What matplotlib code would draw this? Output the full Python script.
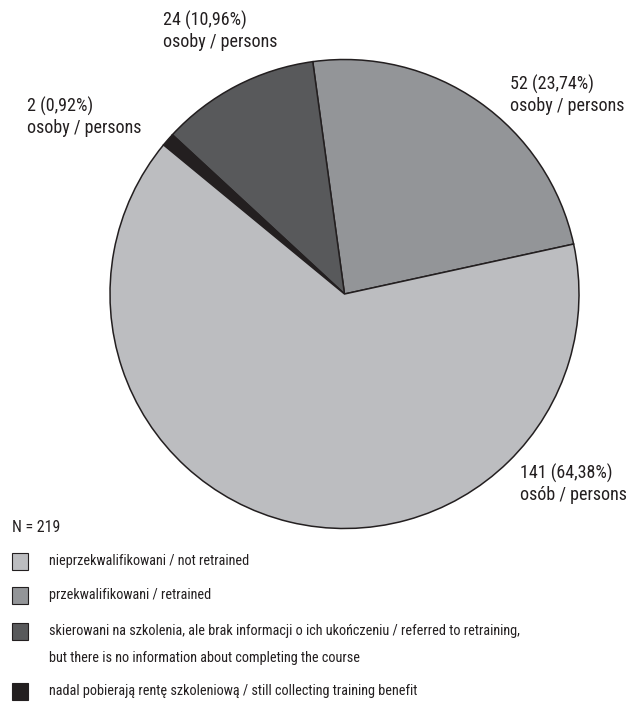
import matplotlib
matplotlib.use("Agg")
from matplotlib import pyplot as plt
from matplotlib.patches import Rectangle

plt.rcParams['font.family'] = ['Roboto Condensed', 'DejaVu Sans']

# counts per group, in legend order
categories = [
    'nieprzekwalifikowani / not retrained',
    'przekwalifikowani / retrained',
    'skierowani na szkolenia, ale brak informacji o ich ukończeniu / referred to retraining,\n'
    'but there is no information about completing the course',
    'nadal pobierają rentę szkoleniową / still collecting training benefit',
]
counts = [141, 52, 24, 2]
percents = [64.38, 23.74, 10.96, 0.92]
units = ['osób / persons', 'osoby / persons', 'osoby / persons', 'osoby / persons']
colors = ['#bcbdc0', '#939598', '#58595b', '#231f20']
total = 219

W, H = 638, 703


def Y(y):
    # work in pixel coordinates measured from the top
    return H - y


fig = plt.figure(figsize=(W / 100, H / 100), dpi=100)
ax = fig.add_axes([0, 0, 1, 1])

# slices go counterclockwise: retrained, referred, still collecting, not retrained
order = [1, 2, 3, 0]
ax.pie([counts[i] for i in order],
       colors=[colors[i] for i in order],
       startangle=12.3, counterclock=True,
       center=(344.5, Y(294)), radius=234.5,
       wedgeprops=dict(edgecolor='#231f20', linewidth=1.1),
       frame=True)
ax.set_xlim(0, W)
ax.set_ylim(0, H)
ax.set_aspect('equal')
ax.axis('off')

label_pos = [(520, 484), (510, 95), (163, 31), (27, 117)]
for c, p, u, (x, y) in zip(counts, percents, units, label_pos):
    txt = f"{c} ({p:.2f}%)".replace('.', ',') + "\n" + u
    ax.text(x, Y(y), txt, ha='left', va='center', fontsize=13,
            color='#231f20', linespacing=1.2)

ax.text(12, Y(528), f"N = {total}", ha='left', va='center', fontsize=11.5,
        color='#231f20')

rows = [561, 595, 631, 691]
for cat, col, yc in zip(categories, colors, rows):
    ax.add_patch(Rectangle((12, Y(yc) - 8.5), 16, 17, facecolor=col,
                           edgecolor='#231f20', linewidth=0.8))
    lines = cat.split('\n')
    for k, line in enumerate(lines):
        ax.text(49, Y(yc + 27 * k), line, ha='left', va='center',
                fontsize=10.3, color='#231f20')

fig.savefig('out.png', dpi=100)
